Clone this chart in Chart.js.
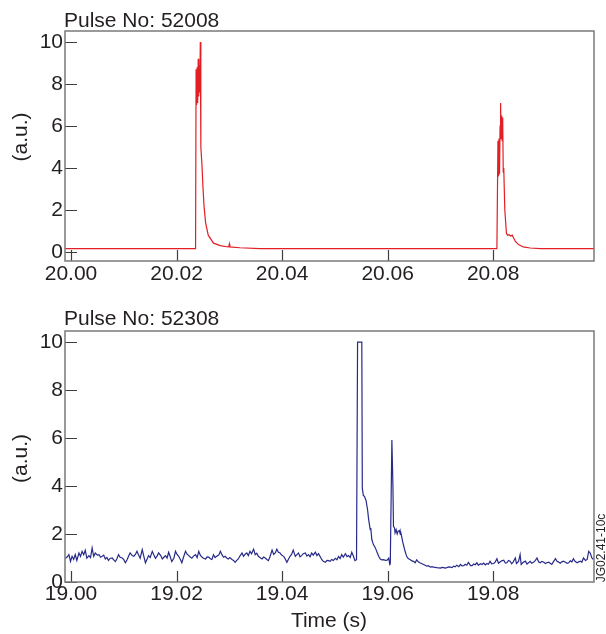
<!DOCTYPE html>
<html>
<head>
<meta charset="utf-8">
<title>Pulse traces</title>
<script src="https://cdn.jsdelivr.net/npm/chart.js@4.4.0/dist/chart.umd.min.js"></script>
<style>
  html, body { margin: 0; padding: 0; background: #fff; }
  #wrap { position: relative; width: 606px; height: 634px; }
  #topChart { position: absolute; left: 0; top: 0; }
  #bottomChart { position: absolute; left: 0; top: 300px; }
</style>
</head>
<body>
<div id="wrap">
  <canvas id="topChart" width="606" height="300"></canvas>
  <canvas id="bottomChart" width="606" height="334"></canvas>
</div>
<script>
// pulse 52008 (time in s, signal in a.u.)
const topTime = [
    19.9989, 20.0236, 20.0237, 20.0238, 20.0239, 20.0240, 20.0241, 20.0242, 20.0243, 20.0244,
    20.0245, 20.0246, 20.0248, 20.0250, 20.0252, 20.0255, 20.0260, 20.0270, 20.0283, 20.0295,
    20.0299, 20.0300, 20.0301, 20.0320, 20.0358, 20.0807, 20.0809, 20.0810, 20.0811, 20.0812,
    20.0813, 20.0814, 20.0815, 20.0816, 20.0817, 20.0818, 20.0819, 20.0820, 20.0822, 20.0825,
    20.0827, 20.0830, 20.0833, 20.0836, 20.0838, 20.0842, 20.0848, 20.0857, 20.0870, 20.0890,
    20.0991
];
const topSignal = [
    0.16, 0.16, 8.7, 7.0, 8.8, 7.1, 9.2, 7.4, 8.9, 7.6,
    10.0, 5.0, 4.2, 3.1, 2.2, 1.4, 0.8, 0.42, 0.3, 0.25,
    0.24, 0.38, 0.24, 0.2, 0.16, 0.16, 5.3, 3.6, 5.4, 3.7,
    6.0, 7.1, 5.4, 6.5, 5.3, 6.4, 3.8, 4.0, 2.0, 0.9,
    0.8, 0.82, 0.76, 0.8, 0.7, 0.5, 0.35, 0.24, 0.19, 0.16,
    0.16
];

// pulse 52308
const bottomTime = [
    18.9989, 18.9993, 18.9996, 18.9999, 19.0002, 19.0005, 19.0008, 19.0011, 19.0015, 19.0018,
    19.0021, 19.0024, 19.0027, 19.0030, 19.0034, 19.0037, 19.0040, 19.0043, 19.0046, 19.0050,
    19.0053, 19.0056, 19.0059, 19.0062, 19.0065, 19.0068, 19.0071, 19.0074, 19.0078, 19.0081,
    19.0084, 19.0087, 19.0090, 19.0093, 19.0097, 19.0100, 19.0103, 19.0106, 19.0109, 19.0112,
    19.0116, 19.0119, 19.0122, 19.0125, 19.0128, 19.0131, 19.0135, 19.0138, 19.0141, 19.0144,
    19.0147, 19.0150, 19.0154, 19.0157, 19.0160, 19.0163, 19.0166, 19.0170, 19.0173, 19.0176,
    19.0179, 19.0182, 19.0185, 19.0188, 19.0191, 19.0195, 19.0198, 19.0201, 19.0204, 19.0207,
    19.0210, 19.0213, 19.0217, 19.0220, 19.0223, 19.0226, 19.0229, 19.0232, 19.0236, 19.0239,
    19.0242, 19.0245, 19.0248, 19.0251, 19.0255, 19.0258, 19.0261, 19.0264, 19.0267, 19.0270,
    19.0273, 19.0276, 19.0280, 19.0283, 19.0286, 19.0289, 19.0292, 19.0295, 19.0298, 19.0301,
    19.0305, 19.0308, 19.0311, 19.0314, 19.0317, 19.0320, 19.0324, 19.0327, 19.0330, 19.0333,
    19.0336, 19.0339, 19.0342, 19.0346, 19.0349, 19.0352, 19.0355, 19.0358, 19.0362, 19.0365,
    19.0368, 19.0371, 19.0374, 19.0377, 19.0381, 19.0384, 19.0387, 19.0390, 19.0393, 19.0396,
    19.0399, 19.0403, 19.0406, 19.0409, 19.0412, 19.0415, 19.0418, 19.0421, 19.0425, 19.0428,
    19.0431, 19.0434, 19.0437, 19.0440, 19.0444, 19.0447, 19.0450, 19.0453, 19.0456, 19.0459,
    19.0463, 19.0466, 19.0469, 19.0472, 19.0475, 19.0478, 19.0482, 19.0485, 19.0488, 19.0491,
    19.0494, 19.0497, 19.0501, 19.0504, 19.0507, 19.0510, 19.0513, 19.0516, 19.0520, 19.0523,
    19.0526, 19.0529, 19.0532, 19.0535, 19.0538, 19.0541, 19.0543, 19.0551, 19.0552, 19.0554,
    19.0556, 19.0559, 19.0562, 19.0564, 19.0566, 19.0567, 19.0568, 19.0570, 19.0573, 19.0576,
    19.0578, 19.0581, 19.0583, 19.0586, 19.0589, 19.0592, 19.0596, 19.0599, 19.0602, 19.0604,
    19.0605, 19.0608, 19.0610, 19.0611, 19.0613, 19.0614, 19.0616, 19.0618, 19.0620, 19.0622,
    19.0624, 19.0625, 19.0627, 19.0629, 19.0631, 19.0633, 19.0636, 19.0639, 19.0643, 19.0646,
    19.0649, 19.0652, 19.0655, 19.0658, 19.0662, 19.0665, 19.0668, 19.0671, 19.0674, 19.0677,
    19.0681, 19.0684, 19.0687, 19.0690, 19.0693, 19.0697, 19.0700, 19.0703, 19.0706, 19.0709,
    19.0712, 19.0716, 19.0719, 19.0722, 19.0725, 19.0728, 19.0731, 19.0735, 19.0738, 19.0741,
    19.0744, 19.0747, 19.0750, 19.0753, 19.0757, 19.0760, 19.0763, 19.0766, 19.0769, 19.0772,
    19.0776, 19.0779, 19.0782, 19.0785, 19.0788, 19.0791, 19.0794, 19.0797, 19.0801, 19.0804,
    19.0807, 19.0810, 19.0813, 19.0816, 19.0820, 19.0823, 19.0826, 19.0829, 19.0832, 19.0835,
    19.0838, 19.0842, 19.0844, 19.0848, 19.0851, 19.0853, 19.0857, 19.0861, 19.0864, 19.0867,
    19.0870, 19.0873, 19.0877, 19.0880, 19.0883, 19.0886, 19.0889, 19.0892, 19.0896, 19.0899,
    19.0902, 19.0905, 19.0908, 19.0911, 19.0914, 19.0918, 19.0921, 19.0924, 19.0927, 19.0930,
    19.0933, 19.0937, 19.0940, 19.0943, 19.0946, 19.0949, 19.0952, 19.0955, 19.0959, 19.0962,
    19.0965, 19.0968, 19.0971, 19.0975, 19.0978, 19.0981, 19.0984, 19.0987, 19.0990
];
const bottomSignal = [
    0.98, 1.05, 1.14, 0.86, 1.07, 0.94, 1.14, 0.90, 1.21, 1.07,
    1.28, 1.14, 1.32, 0.99, 1.10, 1.02, 1.42, 1.07, 1.21, 1.12,
    1.14, 1.03, 1.07, 1.12, 0.96, 1.02, 0.90, 0.98, 1.00, 0.92,
    0.85, 0.97, 1.14, 1.03, 1.00, 0.93, 0.80, 0.92, 1.07, 1.21,
    1.10, 1.07, 1.15, 1.28, 1.12, 0.99, 1.35, 1.07, 0.80, 0.95,
    1.10, 1.02, 1.28, 1.13, 0.99, 1.08, 1.21, 1.10, 0.96, 1.03,
    1.10, 1.00, 1.24, 1.05, 0.85, 1.00, 1.28, 1.15, 1.07, 0.95,
    0.80, 1.02, 1.28, 1.16, 1.10, 1.04, 0.99, 1.08, 1.14, 1.02,
    1.28, 1.12, 1.04, 0.99, 0.96, 1.05, 1.04, 0.97, 0.94, 1.14,
    1.02, 1.07, 1.12, 1.28, 1.14, 1.03, 1.07, 1.00, 0.96, 1.02,
    0.94, 0.90, 0.82, 0.90, 0.96, 1.08, 1.21, 1.07, 1.16, 1.21,
    1.10, 1.28, 1.18, 1.37, 1.14, 1.20, 1.07, 1.02, 0.96, 1.04,
    1.00, 0.94, 0.89, 1.05, 1.33, 1.15, 1.21, 1.37, 1.24, 1.21,
    1.12, 1.07, 0.96, 0.82, 0.95, 1.07, 1.15, 1.33, 1.07, 1.14,
    1.21, 1.05, 1.10, 1.18, 1.21, 1.08, 1.14, 1.05, 1.21, 1.12,
    1.24, 1.10, 1.18, 1.06, 0.94, 0.86, 0.82, 0.90, 0.89, 0.86,
    0.94, 0.90, 0.99, 0.93, 1.07, 0.98, 1.14, 1.04, 1.18, 1.06,
    1.10, 1.02, 1.24, 1.08, 0.89, 0.93, 10.0, 10.0, 3.9, 3.6,
    3.57, 3.4, 3.0, 2.6, 2.32, 2.18, 2.25, 1.77, 1.56, 1.45,
    1.35, 1.18, 1.07, 0.96, 0.92, 0.93, 0.90, 0.91, 0.99, 0.73,
    0.76, 5.92, 4.0, 2.32, 2.25, 2.05, 2.18, 2.00, 2.12, 2.15,
    1.98, 2.05, 1.85, 1.63, 1.45, 1.28, 1.07, 0.98, 0.93, 0.88,
    0.86, 0.80, 0.92, 0.84, 0.79, 0.76, 0.73, 0.70, 0.66, 0.68,
    0.62, 0.64, 0.62, 0.61, 0.60, 0.59, 0.58, 0.61, 0.60, 0.58,
    0.60, 0.63, 0.62, 0.60, 0.66, 0.63, 0.70, 0.64, 0.73, 0.67,
    0.68, 0.74, 0.70, 0.82, 0.68, 0.68, 0.75, 0.72, 0.80, 0.70,
    0.76, 0.73, 0.79, 0.71, 0.77, 0.74, 0.87, 0.76, 0.77, 0.84,
    0.97, 0.78, 0.83, 0.88, 0.91, 0.79, 0.80, 0.90, 0.87, 0.76,
    0.84, 1.00, 0.77, 0.86, 1.14, 0.73, 0.82, 0.87, 0.75, 0.80,
    0.86, 0.78, 0.83, 0.90, 1.00, 0.84, 0.80, 0.86, 0.82, 0.77,
    0.80, 0.83, 0.78, 0.73, 0.84, 0.97, 0.86, 0.83, 0.78, 0.84,
    0.87, 0.82, 0.78, 0.80, 0.88, 0.84, 0.97, 0.86, 0.80, 0.84,
    0.87, 0.82, 1.00, 0.90, 0.94, 1.28, 1.20, 1.00, 0.94
];

// axis ticks
const topTicksX = [20.00, 20.02, 20.04, 20.06, 20.08];
const bottomTicksX = [19.00, 19.02, 19.04, 19.06, 19.08];
const ticksY = [0, 2, 4, 6, 8, 10];

const FONT = '"Liberation Sans", Arial, Helvetica, sans-serif';
const INK = '#231f20';

function toPoints(times, values) {
    return times.map((t, i) => ({ x: t, y: values[i] }));
}

// frame, inward tick marks and the free texts of each panel
function panelDecor(texts) {
    return {
        id: 'panelDecor',
        afterDraw(chart) {
            const { ctx, chartArea: a, scales } = chart;
            ctx.save();
            ctx.strokeStyle = '#3d3d3d';
            ctx.lineWidth = 1.2;
            ctx.beginPath();
            scales.x.ticks.forEach(t => {
                const px = Math.round(scales.x.getPixelForValue(t.value)) + 0.5;
                ctx.moveTo(px, a.bottom);
                ctx.lineTo(px, a.bottom - 11);
            });
            scales.y.ticks.forEach(t => {
                const py = Math.round(scales.y.getPixelForValue(t.value)) + 0.5;
                ctx.moveTo(a.left, py);
                ctx.lineTo(a.left + 12, py);
            });
            ctx.stroke();

            ctx.strokeStyle = '#7a7a7a';
            ctx.lineWidth = 1.5;
            ctx.strokeRect(a.left, a.top, a.right - a.left, a.bottom - a.top);

            ctx.fillStyle = INK;
            texts.forEach(tx => {
                ctx.save();
                ctx.font = tx.size + 'px ' + FONT;
                ctx.textAlign = tx.align || 'left';
                ctx.textBaseline = tx.baseline || 'alphabetic';
                ctx.translate(tx.x, tx.y);
                if (tx.rotate) ctx.rotate(tx.rotate);
                ctx.fillText(tx.text, 0, 0);
                ctx.restore();
            });
            ctx.restore();
        }
    };
}

function makeChart(canvasId, points, color, xMin, xMax, yMin, yMax, xTicks, xAxisHeight, labelPad, texts) {
    const ctx = document.getElementById(canvasId).getContext('2d');
    return new Chart(ctx, {
        type: 'line',
        data: {
            datasets: [{
                data: points,
                borderColor: color,
                borderWidth: 1.2,
                pointRadius: 0,
                tension: 0,
                fill: false
            }]
        },
        options: {
            responsive: false,
            animation: false,
            layout: { padding: { left: 0, right: 12, top: 31, bottom: 0 } },
            plugins: {
                legend: { display: false },
                tooltip: { enabled: false },
                title: { display: false }
            },
            scales: {
                x: {
                    type: 'linear',
                    min: xMin,
                    max: xMax,
                    grid: { display: false, drawTicks: false },
                    border: { display: false },
                    afterBuildTicks: ax => { ax.ticks = xTicks.map(v => ({ value: v })); },
                    afterFit: ax => {
                        ax.height = xAxisHeight;
                        ax.paddingLeft = 0;
                        ax.paddingRight = 0;
                    },
                    ticks: {
                        font: { family: FONT, size: 21 },
                        color: INK,
                        padding: labelPad,
                        maxRotation: 0,
                        autoSkip: false,
                        callback: v => v.toFixed(2)
                    }
                },
                y: {
                    min: yMin,
                    max: yMax,
                    grid: { display: false, drawTicks: false },
                    border: { display: false },
                    afterBuildTicks: ax => { ax.ticks = ticksY.map(v => ({ value: v })); },
                    afterFit: ax => {
                        ax.width = 65;
                        ax.paddingTop = 0;
                        ax.paddingBottom = 0;
                    },
                    ticks: {
                        font: { family: FONT, size: 21 },
                        color: INK,
                        padding: 2,
                        callback: v => String(v)
                    }
                }
            }
        },
        plugins: [panelDecor(texts)]
    });
}

makeChart('topChart', toPoints(topTime, topSignal), '#e31e24',
    19.99886, 20.0991, -0.43, 10.524, topTicksX, 39, 1, [
        { text: 'Pulse No: 52008', x: 64, y: 26.5, size: 21 },
        { text: '(a.u.)', x: 21, y: 137, size: 21, align: 'center', baseline: 'middle', rotate: -Math.PI / 2 }
    ]);

makeChart('bottomChart', toPoints(bottomTime, bottomSignal), '#282a8a',
    18.99886, 19.0991, 0, 10.46, bottomTicksX, 52, 0, [
        { text: 'Pulse No: 52308', x: 64, y: 24.5, size: 21 },
        { text: '(a.u.)', x: 21, y: 158.5, size: 21, align: 'center', baseline: 'middle', rotate: -Math.PI / 2 },
        { text: 'Time (s)', x: 329, y: 326.5, size: 21, align: 'center' },
        { text: 'JG02.41-10c', x: 601.5, y: 248, size: 12, align: 'center', baseline: 'middle', rotate: -Math.PI / 2 }
    ]);
</script>
</body>
</html>
